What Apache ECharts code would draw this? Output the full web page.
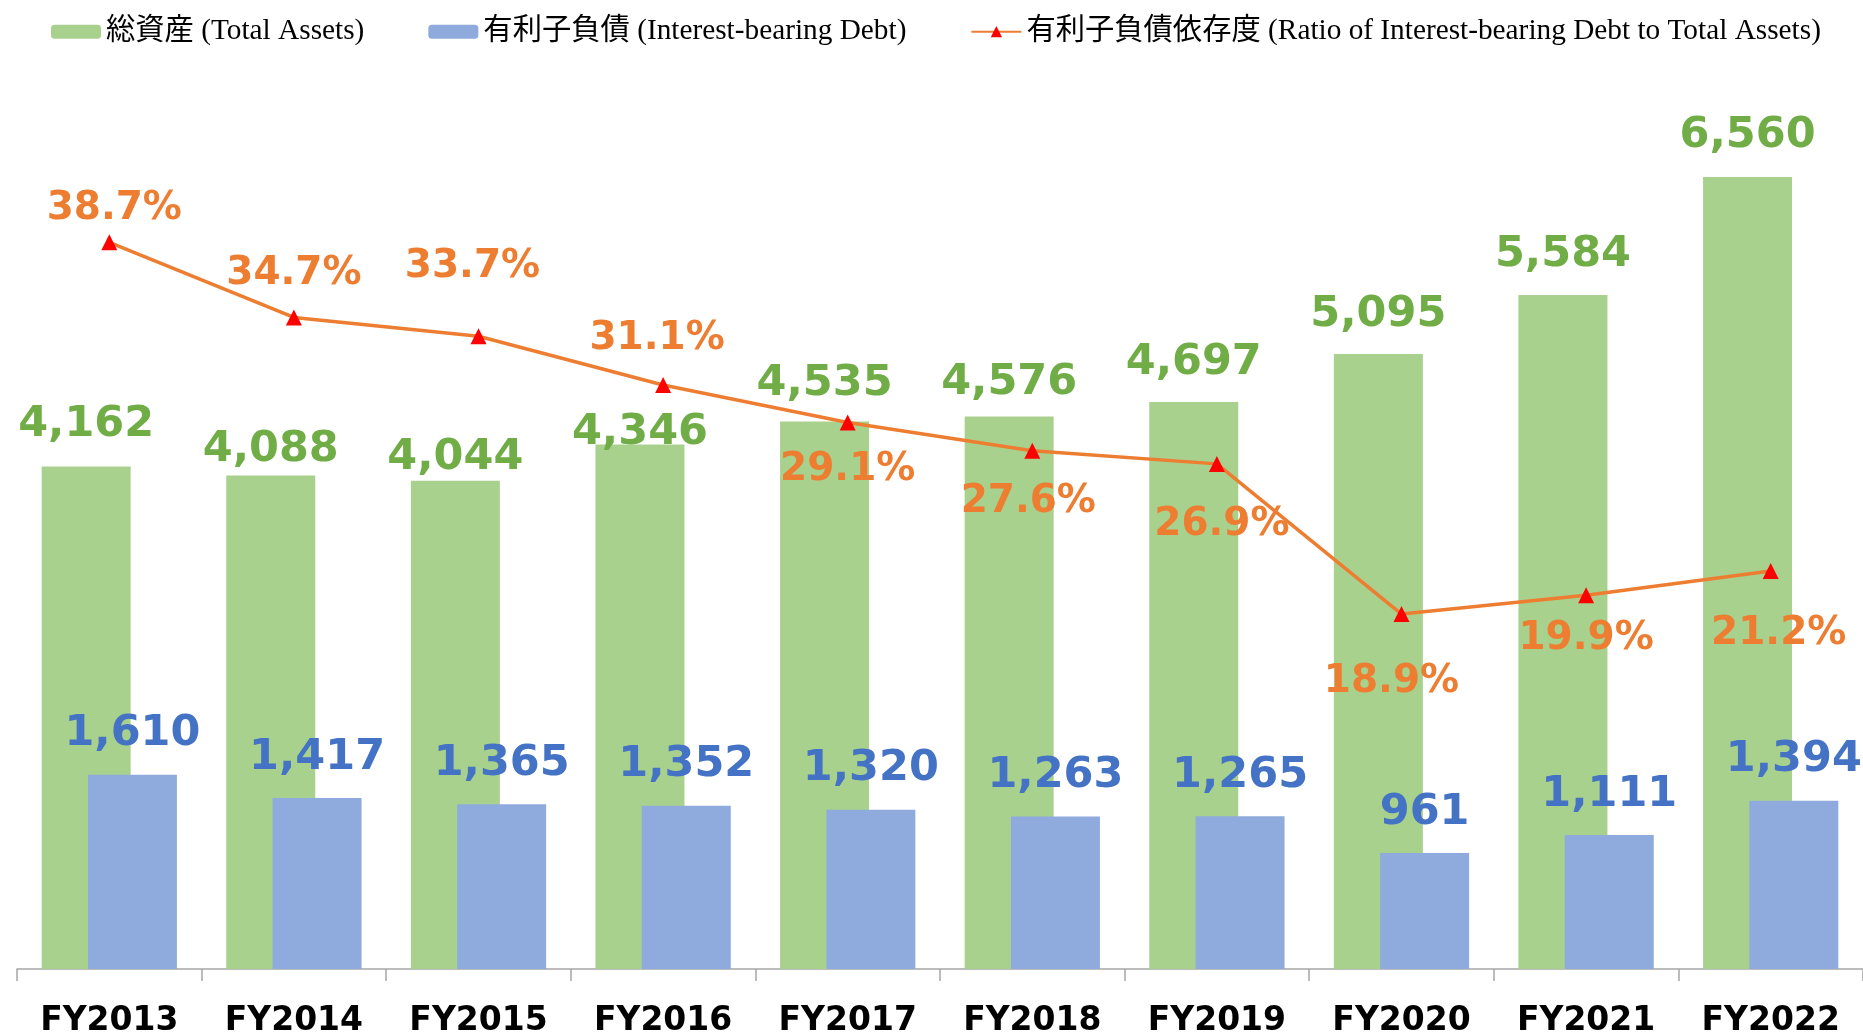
<!DOCTYPE html>
<html>
<head>
<meta charset="utf-8">
<script src="https://cdn.jsdelivr.net/npm/echarts@6/dist/echarts.min.js"></script>
<style>
  html, body { margin: 0; padding: 0; background: #fff; }
  #chart { width: 1863px; height: 1033px; }
</style>
</head>
<body>
<div id="chart"></div>
<script>
var years = ["FY2013", "FY2014", "FY2015", "FY2016", "FY2017", "FY2018", "FY2019", "FY2020", "FY2021", "FY2022"];
var totalAssets = [4162, 4088, 4044, 4346, 4535, 4576, 4697, 5095, 5584, 6560];
var debt = [1610, 1417, 1365, 1352, 1320, 1263, 1265, 961, 1111, 1394];
var debtRatio = [38.7, 34.7, 33.7, 31.1, 29.1, 27.6, 26.9, 18.9, 19.9, 21.2];

var legendNames = [
  "総資産 (Total Assets)",
  "有利子負債 (Interest-bearing Debt)",
  "有利子負債依存度 (Ratio of Interest-bearing Debt to Total Assets)"
];

// label nudges [dx, dy] so the labels sit like in the original sheet
var assetLabelNudge = [[0, 2], [0, 18], [0, 20], [0, 32], [0, 6], [0, 10], [0, 4], [0, 4], [0, 3], [0, 2]];
var ratioLabelNudge = [[5, 16], [0, 6], [-6, -20], [-6, 3], [0, -2], [-4, 2], [5, 11], [-10, 18], [0, -6], [8, 13]];

var fmt = function (v) {
  return v.toLocaleString("en-US");
};

var chart = echarts.init(document.getElementById("chart"));

var assetData = totalAssets.map(function (v, i) {
  return { value: v, label: { offset: assetLabelNudge[i] } };
});
var ratioData = debtRatio.map(function (v, i) {
  return {
    value: v,
    label: {
      position: i < 4 ? "top" : "bottom",
      offset: ratioLabelNudge[i],
    },
  };
});

var numFont = "'DejaVu Sans', Verdana, sans-serif";

var option = {
  animation: false,
  backgroundColor: "#fff",
  legend: {
    left: 46,
    top: 12,
    itemWidth: 50,
    itemHeight: 14,
    itemGap: 64,
    data: legendNames,
    textStyle: {
      color: "#000",
      fontSize: 29.3,
      fontFamily: "'Liberation Serif', 'Noto Sans CJK JP', serif",
    },
  },
  grid: {
    left: 17,
    right: 0,
    top: 124,
    bottom: 64,
    outerBoundsMode: "none",
    containLabel: false,
  },
  xAxis: {
    type: "category",
    data: years,
    axisLine: {
      lineStyle: { color: "#A6A6A6", width: 1.5 },
    },
    axisTick: {
      show: true,
      length: 12,
      lineStyle: { color: "#A6A6A6", width: 1.5 },
    },
    axisLabel: {
      interval: 0,
      margin: 36,
      color: "#000",
      fontSize: 33,
      fontWeight: "bold",
      fontFamily: numFont,
    },
  },
  yAxis: [
    { type: "value", min: 0, max: 7000, show: false },
    { type: "value", min: 0, max: 45, show: false },
  ],
  series: [
    {
      name: legendNames[0],
      type: "bar",
      data: assetData,
      barWidth: 89,
      barGap: "-48%",
      itemStyle: { color: "#A9D18E" },
      label: {
        show: true,
        position: "top",
        distance: 22,
        color: "#70AD47",
        fontSize: 43,
        fontWeight: "bold",
        fontFamily: numFont,
        formatter: function (p) {
          return fmt(p.value);
        },
      },
    },
    {
      name: legendNames[1],
      type: "bar",
      data: debt,
      barWidth: 89,
      itemStyle: { color: "#8FAADC" },
      label: {
        show: true,
        position: "top",
        distance: 19,
        color: "#4472C4",
        fontSize: 43,
        fontWeight: "bold",
        fontFamily: numFont,
        formatter: function (p) {
          return fmt(p.value);
        },
      },
    },
    {
      name: legendNames[2],
      type: "line",
      yAxisIndex: 1,
      data: ratioData,
      symbol: "triangle",
      symbolSize: 16,
      z: 5,
      lineStyle: { color: "#ED7D31", width: 3.5 },
      itemStyle: { color: "#FF0000" },
      label: {
        show: true,
        distance: 22,
        color: "#ED7D31",
        fontSize: 39,
        fontWeight: "bold",
        fontFamily: numFont,
        formatter: function (p) {
          return p.value.toFixed(1) + "%";
        },
      },
    },
  ],
};

chart.setOption(option);
</script>
</body>
</html>
